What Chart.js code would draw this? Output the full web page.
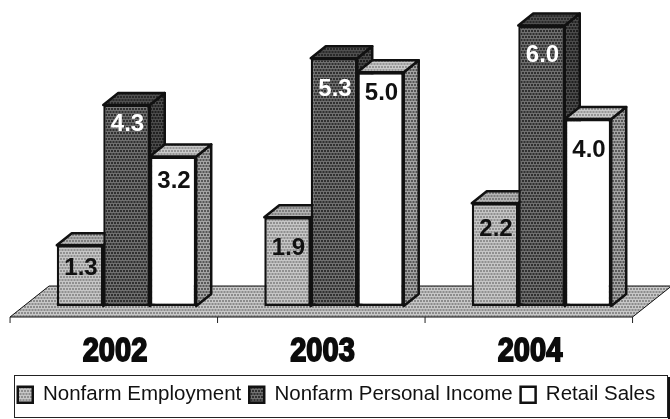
<!DOCTYPE html>
<html>
<head>
<meta charset="utf-8">
<title>Growth by year</title>
<script src="https://cdn.jsdelivr.net/npm/chart.js@4/dist/chart.umd.min.js"></script>
<style>
    html, body { margin: 0; padding: 0; background: #fff; }
    canvas { display: block; }
</style>
</head>
<body>
<canvas id="grafico" width="670" height="419"></canvas>
<script>
var anos = ['2002', '2003', '2004'];
var emprego = [1.3, 1.9, 2.2];
var renda = [4.3, 5.3, 6.0];
var varejo = [3.2, 5.0, 4.0];

// dotted fill, like a halftone print
function pontilhado(claro, escuro) {
    var c = document.createElement('canvas');
    c.width = 3;
    c.height = 6;
    var g = c.getContext('2d');
    g.fillStyle = claro;
    g.fillRect(0, 0, 3, 6);
    g.fillStyle = escuro;
    g.fillRect(0, 0, 2, 2);
    g.fillRect(1.5, 3, 2, 2);
    g.fillRect(-1.5, 3, 2, 2);
    return g.createPattern(c, 'repeat');
}

var fundo = pontilhado('#c8c8c8', '#8c8c8c');
var faces = [
    { frente: pontilhado('#c6c6c6', '#909090'), topo: pontilhado('#b4b4b4', '#7e7e7e'), lado: pontilhado('#8a8a8a', '#5a5a5a') },
    { frente: pontilhado('#707070', '#303030'), topo: pontilhado('#505050', '#2a2a2a'), lado: pontilhado('#4c4c4c', '#202020') },
    { frente: '#ffffff', topo: pontilhado('#cacaca', '#969696'), lado: pontilhado('#a4a4a4', '#585858') }
];

var LINHA = '#111111';
var PROF_X = 15;
var PROF_Y = 12;

function poligono(ctx, pontos, preenchimento, espessura) {
    ctx.beginPath();
    ctx.moveTo(pontos[0][0], pontos[0][1]);
    for (var i = 1; i < pontos.length; i++) {
        ctx.lineTo(pontos[i][0], pontos[i][1]);
    }
    ctx.closePath();
    ctx.fillStyle = preenchimento;
    ctx.fill();
    ctx.lineWidth = espessura;
    ctx.lineJoin = 'round';
    ctx.strokeStyle = LINHA;
    ctx.stroke();
}

// floor plane, tick marks, then the side and top faces of every bar;
// the library paints the front faces over all of this afterwards
var cenaPlugin = {
    id: 'cena',
    beforeDatasetsDraw: function (chart) {
        var ctx = chart.ctx;
        var area = chart.chartArea;
        var frenteY = area.bottom + 11;
        var fundoY = area.bottom - 20;
        var esq = area.left - 12.7;
        var dir = area.right - 12.7;
        ctx.save();
        poligono(ctx, [[esq, frenteY], [esq + 39, fundoY], [dir + 39, fundoY], [dir, frenteY]], fundo, 1);
        ctx.strokeStyle = '#222222';
        ctx.lineWidth = 1;
        var passo = (dir - esq) / anos.length;
        for (var i = 0; i <= anos.length; i++) {
            ctx.beginPath();
            ctx.moveTo(esq + passo * i, frenteY);
            ctx.lineTo(esq + passo * i, frenteY + 6);
            ctx.stroke();
        }
        chart.data.datasets.forEach(function (ds, s) {
            var f = faces[s];
            chart.getDatasetMeta(s).data.forEach(function (bar) {
                var p = bar.getProps(['x', 'y', 'base', 'width'], true);
                var e = p.x - p.width / 2;
                var d = p.x + p.width / 2;
                poligono(ctx, [[d, p.y], [d + PROF_X, p.y - PROF_Y], [d + PROF_X, p.base - PROF_Y], [d, p.base]], f.lado, 2.5);
                poligono(ctx, [[e, p.y], [e + PROF_X, p.y - PROF_Y], [d + PROF_X, p.y - PROF_Y], [d, p.y]], f.topo, 2.5);
            });
        });
        ctx.restore();
    }
};

var rotulosPlugin = {
    id: 'rotulos',
    afterDatasetsDraw: function (chart, args, opts) {
        var ctx = chart.ctx;
        ctx.save();
        ctx.font = 'bold 24px "Liberation Sans", Arial, sans-serif';
        ctx.textAlign = 'center';
        ctx.textBaseline = 'middle';
        chart.data.datasets.forEach(function (ds, i) {
            chart.getDatasetMeta(i).data.forEach(function (bar, j) {
                ctx.fillStyle = opts.cores[i];
                ctx.fillText(ds.data[j].toFixed(1), bar.x + 1, bar.y + opts.descida[i][j]);
            });
        });
        ctx.restore();
    }
};

// year labels: squeezed heavy type under the floor
var anosPlugin = {
    id: 'anos',
    afterDraw: function (chart) {
        var ctx = chart.ctx;
        var x = chart.scales.x;
        ctx.save();
        ctx.font = 'bold 33px "Liberation Sans", Arial, sans-serif';
        ctx.textAlign = 'center';
        ctx.textBaseline = 'middle';
        ctx.fillStyle = '#0c0c0c';
        ctx.strokeStyle = '#0c0c0c';
        ctx.lineWidth = 1.8;
        anos.forEach(function (ano, i) {
            ctx.save();
            ctx.translate(x.getPixelForTick(i) - 11.5, chart.chartArea.bottom + 46);
            ctx.scale(0.88, 1);
            ctx.fillText(ano, 0, 0);
            ctx.strokeText(ano, 0, 0);
            ctx.restore();
        });
        ctx.restore();
    }
};

// frame around the legend, with the heavy right edge
var molduraPlugin = {
    id: 'moldura',
    afterDraw: function (chart) {
        var ctx = chart.ctx;
        ctx.save();
        ctx.strokeStyle = '#222222';
        ctx.lineWidth = 1;
        ctx.strokeRect(14.5, 375.5, 653, 42);
        ctx.fillStyle = '#111111';
        ctx.fillRect(668, 377, 2, 42);
        ctx.restore();
    }
};

new Chart(document.getElementById('grafico').getContext('2d'), {
    type: 'bar',
    data: {
        labels: anos,
        datasets: [
            { label: 'Nonfarm Employment', data: emprego, backgroundColor: faces[0].frente },
            { label: 'Nonfarm Personal Income', data: renda, backgroundColor: faces[1].frente },
            { label: 'Retail Sales', data: varejo, backgroundColor: faces[2].frente }
        ]
    },
    plugins: [cenaPlugin, rotulosPlugin, anosPlugin, molduraPlugin],
    options: {
        responsive: false,
        animation: false,
        layout: { padding: { top: 4.5, bottom: 4, left: 3 } },
        datasets: {
            bar: {
                categoryPercentage: 0.672,
                barPercentage: 1,
                borderWidth: 2.5,
                borderColor: LINHA,
                borderSkipped: false
            }
        },
        scales: {
            x: {
                grid: { display: false },
                border: { display: false },
                ticks: { display: false },
                afterFit: function (scale) { scale.height = 70.5; }
            },
            y: {
                min: 0,
                max: 6.45,
                grid: { display: false },
                border: { display: false },
                ticks: { display: false },
                afterFit: function (scale) { scale.width = 19.75; }
            },
            margemDireita: {
                position: 'right',
                grid: { display: false },
                border: { display: false },
                ticks: { display: false },
                afterFit: function (scale) { scale.width = 24.75; }
            }
        },
        plugins: {
            tooltip: { enabled: false },
            legend: {
                position: 'bottom',
                labels: {
                    color: '#111111',
                    boxWidth: 15,
                    boxHeight: 16,
                    padding: 8,
                    font: { family: '"Liberation Sans", Arial, sans-serif', size: 20.5 }
                }
            },
            rotulos: {
                cores: ['#111111', '#ffffff', '#111111'],
                descida: [[23.5, 31.5, 26.5], [19.5, 31.5, 29.5], [24.5, 21.5, 31.5]]
            }
        }
    }
});
</script>
</body>
</html>
